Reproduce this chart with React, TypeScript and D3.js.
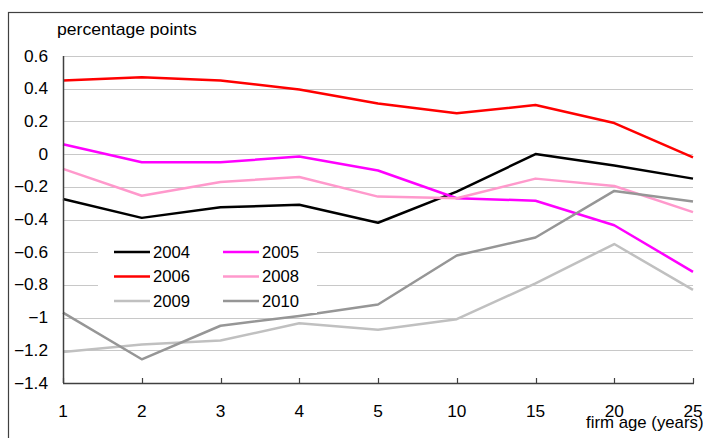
import React, { useEffect, useRef } from 'react';
import * as d3 from 'd3';

const ages = ['1', '2', '3', '4', '5', '10', '15', '20', '25'];
const yTicks = [0.6, 0.4, 0.2, 0, -0.2, -0.4, -0.6, -0.8, -1, -1.2, -1.4];

const s2004 = [-0.275, -0.39, -0.325, -0.31, -0.42, -0.23, 0.0, -0.07, -0.15];
const s2005 = [0.06, -0.05, -0.05, -0.015, -0.1, -0.27, -0.285, -0.435, -0.72];
const s2006 = [0.45, 0.47, 0.45, 0.395, 0.31, 0.25, 0.3, 0.19, -0.02];
const s2008 = [-0.09, -0.255, -0.17, -0.14, -0.26, -0.27, -0.15, -0.195, -0.355];
const s2009 = [-1.21, -1.165, -1.14, -1.035, -1.075, -1.01, -0.79, -0.55, -0.83];
const s2010 = [-0.97, -1.255, -1.05, -0.99, -0.92, -0.62, -0.51, -0.225, -0.29];

const series = [
  { name: '2004', values: s2004, color: '#000000' },
  { name: '2005', values: s2005, color: '#ff00ff' },
  { name: '2006', values: s2006, color: '#ff0000' },
  { name: '2008', values: s2008, color: '#ff99cc' },
  { name: '2009', values: s2009, color: '#c0c0c0' },
  { name: '2010', values: s2010, color: '#969696' },
];

const LineChart = () => {
  const ref = useRef<SVGSVGElement>(null);
  const width = 703, height = 438;
  const plot = { left: 63, right: 693, top: 56, bottom: 383 };

  useEffect(() => {
    const svg = d3.select(ref.current);
    svg.selectAll('*').remove();
    const font = 'Liberation Sans, Arial, sans-serif';

    // the original text is a bit wider than it is tall
    const label = (g, x: number, y: number, txt: string, anchor = 'start', sx = 1.08) =>
      g.append('text')
        .attr('transform', `translate(${x},${y}) scale(${sx},1)`)
        .attr('text-anchor', anchor)
        .style('font-family', font).style('font-size', '16px')
        .text(txt);

    const x = d3.scalePoint().domain(ages).range([plot.left, plot.right]);
    const y = d3.scaleLinear().domain([-1.4, 0.6]).range([plot.bottom, plot.top]);

    // outer frame
    svg.append('rect')
      .attr('x', 8.5).attr('y', 12.5)
      .attr('width', 720).attr('height', 450)
      .attr('fill', 'white').attr('stroke', '#404040').attr('stroke-width', 1.2);

    // gridlines
    svg.append('g')
      .selectAll('line')
      .data(yTicks.filter(t => t !== -1.4))
      .enter()
      .append('line')
      .attr('x1', plot.left).attr('x2', plot.right)
      .attr('y1', d => Math.round(y(d)) + 0.5).attr('y2', d => Math.round(y(d)) + 0.5)
      .attr('stroke', '#c8c8c8').attr('stroke-width', 1.2);

    // y tick labels
    const yl = svg.append('g');
    yTicks.forEach(t => label(yl, 48, y(t) + 5.5, d3.format('')(t), 'end'));

    // lines
    const line = d3.line<number>()
      .x((_, i) => x(ages[i]) as number)
      .y(d => y(d));

    svg.append('g')
      .selectAll('path')
      .data(series)
      .enter()
      .append('path')
      .attr('d', d => line(d.values))
      .attr('fill', 'none')
      .attr('stroke', d => d.color)
      .attr('stroke-width', 2.5)
      .attr('stroke-linejoin', 'round');

    // axes
    svg.append('line')
      .attr('x1', plot.left + 0.5).attr('x2', plot.left + 0.5)
      .attr('y1', plot.top).attr('y2', plot.bottom)
      .attr('stroke', '#404040').attr('stroke-width', 1.5);
    svg.append('line')
      .attr('x1', plot.left).attr('x2', plot.right + 1)
      .attr('y1', plot.bottom + 0.5).attr('y2', plot.bottom + 0.5)
      .attr('stroke', '#404040').attr('stroke-width', 1.5);
    svg.append('g')
      .selectAll('line')
      .data(ages)
      .enter()
      .append('line')
      .attr('x1', d => Math.round(x(d) as number) + 0.5)
      .attr('x2', d => Math.round(x(d) as number) + 0.5)
      .attr('y1', plot.bottom - 5).attr('y2', plot.bottom)
      .attr('stroke', '#404040').attr('stroke-width', 1.2);

    const xl = svg.append('g');
    ages.forEach(a => label(xl, x(a) as number, 417, a, 'middle'));

    // legend
    const lg = svg.append('g');
    lg.append('rect')
      .attr('x', 98).attr('y', 237).attr('width', 219).attr('height', 76)
      .attr('fill', 'white');
    series.forEach((s, i) => {
      const col = i % 2, row = Math.floor(i / 2);
      const lx = 114 + col * 109, ly = 252 + row * 24.5;
      lg.append('line')
        .attr('x1', lx).attr('x2', lx + 36)
        .attr('y1', ly).attr('y2', ly)
        .attr('stroke', s.color).attr('stroke-width', 2.5);
      label(lg, lx + 39, ly + 5.5, s.name, 'start', 1.04);
    });

    // titles
    label(svg, 57, 35, 'percentage points', 'start', 1.1);
    label(svg, 586, 428, 'firm age (years)', 'start', 1.05);
  }, []);

  return <svg ref={ref} width={width} height={height} style={{ position: 'absolute', left: 0, top: 0 }}></svg>;
};

export default function App() {
  return <LineChart />;
}
